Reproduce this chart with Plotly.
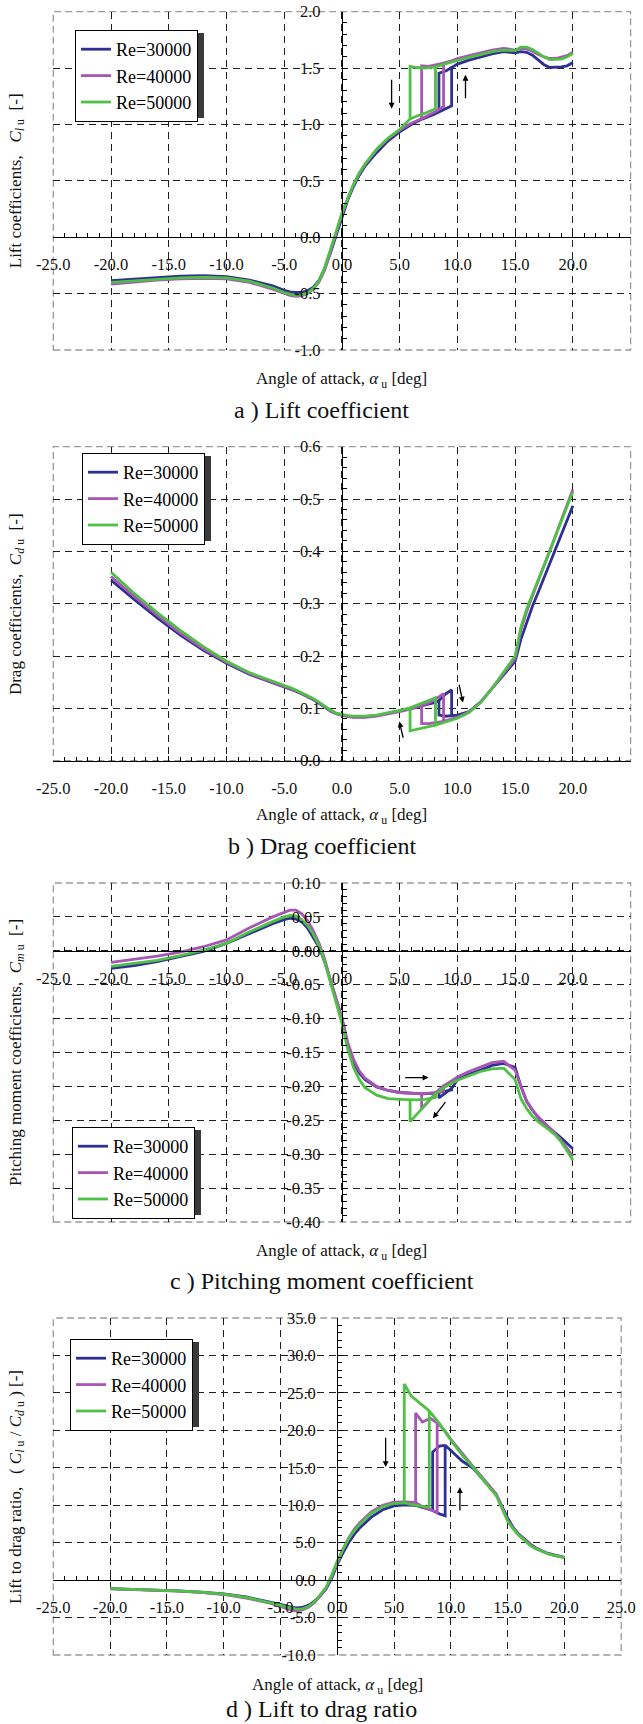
import plotly.graph_objects as go

# ---------------------------------------------------------------- data
RE_LABELS = ["Re=30000", "Re=40000", "Re=50000"]
COLORS = ["#2E3192", "#A855B5", "#4FBF45"]

X_TICKS = [-25, -20, -15, -10, -5, 0, 5, 10, 15, 20, 25]
X_TICK_TEXT = ["-25.0", "-20.0", "-15.0", "-10.0", "-5.0", "0.0", "5.0", "10.0", "15.0", "20.0", "25.0"]
Y_TICKS_CL = [-1.0, -0.5, 0.0, 0.5, 1.0, 1.5, 2.0]
Y_TEXT_CL = ["-1.0", "-0.5", "0.0", "0.5", "1.0", "1.5", "2.0"]
Y_TICKS_CD = [0.0, 0.1, 0.2, 0.3, 0.4, 0.5, 0.6]
Y_TEXT_CD = ["0.0", "0.1", "0.2", "0.3", "0.4", "0.5", "0.6"]
Y_TICKS_CM = [-0.40, -0.35, -0.30, -0.25, -0.20, -0.15, -0.10, -0.05, 0.00, 0.05, 0.10]
Y_TEXT_CM = ["-0.40", "-0.35", "-0.30", "-0.25", "-0.20", "-0.15", "-0.10", "-0.05", "0.00", "0.05", "0.10"]
Y_TICKS_LD = [-10, -5, 0, 5, 10, 15, 20, 25, 30, 35]
Y_TEXT_LD = ["-10.0", "-5.0", "0.0", "5.0", "10.0", "15.0", "20.0", "25.0", "30.0", "35.0"]

# angle of attack, common part of the (separated-flow) branch
ALPHA_COMMON = [-20, -18, -16, -14, -12, -10, -8, -6, -5, -4.5, -4, -3.5, -3, -2.5, -2,
                -1.5, -1, -0.5, 0, 0.5, 1, 1.5, 2, 3, 4, 5]
# continuation of the separated branch up to the upward jump
ALPHA_LO_EXT_30 = [6, 7, 8, 8.4, 9, 9.5]
ALPHA_LO_EXT_40 = [6, 6.9, 7.5, 8.2, 8.8]
ALPHA_LO_EXT_50 = [5.9, 6.5, 7.2, 8.1]
# attached branch, from the downward jump to 20 deg
ALPHA_HI_30 = [8.4, 9, 9.5, 10, 11, 12, 13, 14, 15, 15.5, 16, 16.5, 17, 17.5, 18, 18.5, 19, 19.5, 20]
ALPHA_HI_40 = [6.9, 7.5, 8.2, 8.8, 9.5, 10, 11, 12, 13, 14, 15, 15.5, 16, 16.5, 17, 17.5, 18, 18.5, 19, 19.5, 20]
ALPHA_HI_50 = [5.9, 6.5, 7.2, 8.1, 9, 10, 11, 12, 13, 14, 15, 15.5, 16, 16.5, 17, 17.5, 18, 18.5, 19, 19.5, 20]

# ---- lift coefficient
CL_LO_30 = [-0.385, -0.37, -0.355, -0.345, -0.34, -0.35, -0.38, -0.43, -0.47, -0.485, -0.49, -0.49, -0.475,
            -0.445, -0.385, -0.28, -0.14, 0.02, 0.19, 0.33, 0.45, 0.55, 0.63, 0.75, 0.855, 0.935,
            1.0, 1.05, 1.09, 1.11, 1.14, 1.165]
CL_HI_30 = [1.455, 1.475, 1.505, 1.535, 1.57, 1.60, 1.625, 1.645, 1.635, 1.645, 1.64, 1.615, 1.57,
            1.53, 1.505, 1.505, 1.51, 1.52, 1.55]
CL_LO_40 = [-0.415, -0.395, -0.38, -0.37, -0.365, -0.37, -0.40, -0.46, -0.50, -0.515, -0.525, -0.52, -0.50,
            -0.46, -0.40, -0.29, -0.13, 0.04, 0.205, 0.345, 0.465, 0.565, 0.645, 0.775, 0.875, 0.95,
            1.01, 1.05, 1.08, 1.12, 1.16]
CL_HI_40 = [1.52, 1.515, 1.53, 1.545, 1.565, 1.585, 1.61, 1.635, 1.66, 1.675, 1.66, 1.675, 1.67, 1.65,
            1.62, 1.60, 1.585, 1.585, 1.595, 1.61, 1.64]
CL_LO_50 = [-0.40, -0.385, -0.37, -0.36, -0.355, -0.36, -0.39, -0.45, -0.49, -0.505, -0.517, -0.51, -0.496,
            -0.455, -0.39, -0.27, -0.12, 0.05, 0.215, 0.35, 0.47, 0.57, 0.65, 0.78, 0.88, 0.955,
            1.05, 1.075, 1.10, 1.14]
CL_HI_50 = [1.515, 1.505, 1.50, 1.51, 1.54, 1.57, 1.595, 1.62, 1.645, 1.66, 1.655, 1.685, 1.685, 1.665,
            1.63, 1.60, 1.575, 1.575, 1.58, 1.60, 1.63]

# ---- drag coefficient
CD_LO_30 = [0.345, 0.308, 0.273, 0.240, 0.211, 0.186, 0.165, 0.149, 0.142, 0.138, 0.133, 0.128, 0.123,
            0.117, 0.110, 0.102, 0.095, 0.090, 0.087, 0.085, 0.084, 0.084, 0.084, 0.086, 0.090, 0.095,
            0.100, 0.105, 0.111, 0.115, 0.128, 0.135]
CD_HI_30 = [0.087, 0.085, 0.086, 0.087, 0.094, 0.112, 0.138, 0.166, 0.190, 0.232, 0.265, 0.295, 0.322,
            0.350, 0.377, 0.405, 0.432, 0.460, 0.487]
CD_LO_40 = [0.352, 0.314, 0.278, 0.244, 0.214, 0.188, 0.166, 0.150, 0.143, 0.139, 0.134, 0.129, 0.124,
            0.118, 0.111, 0.103, 0.096, 0.090, 0.087, 0.084, 0.083, 0.083, 0.083, 0.085, 0.089, 0.094,
            0.099, 0.105, 0.110, 0.119, 0.128]
CD_HI_40 = [0.071, 0.071, 0.073, 0.075, 0.079, 0.083, 0.093, 0.111, 0.138, 0.167, 0.195, 0.250, 0.285,
            0.315, 0.343, 0.372, 0.400, 0.430, 0.460, 0.490, 0.518]
CD_LO_50 = [0.360, 0.320, 0.283, 0.249, 0.218, 0.190, 0.168, 0.152, 0.145, 0.140, 0.135, 0.130, 0.125,
            0.119, 0.112, 0.104, 0.097, 0.091, 0.088, 0.086, 0.085, 0.085, 0.085, 0.087, 0.091, 0.096,
            0.101, 0.106, 0.112, 0.120]
CD_HI_50 = [0.057, 0.061, 0.064, 0.068, 0.074, 0.081, 0.092, 0.111, 0.138, 0.168, 0.200, 0.255, 0.290,
            0.318, 0.345, 0.372, 0.400, 0.430, 0.458, 0.487, 0.514]

# ---- pitching moment coefficient
CM_LO_30 = [-0.026, -0.022, -0.016, -0.009, -0.001, 0.011, 0.026, 0.040, 0.046, 0.048, 0.047, 0.043, 0.034,
            0.020, 0.006, -0.016, -0.045, -0.074, -0.100, -0.140, -0.165, -0.180, -0.190, -0.201, -0.206,
            -0.209, -0.210, -0.211, -0.210, -0.209, -0.207, -0.205]
CM_HI_30 = [-0.217, -0.210, -0.203, -0.190, -0.182, -0.176, -0.169, -0.166, -0.172, -0.200, -0.222,
            -0.235, -0.246, -0.254, -0.262, -0.269, -0.276, -0.284, -0.292]
CM_LO_40 = [-0.017, -0.013, -0.008, -0.002, 0.006, 0.016, 0.034, 0.050, 0.057, 0.060, 0.060, 0.055, 0.045,
            0.030, 0.012, -0.012, -0.043, -0.072, -0.098, -0.135, -0.160, -0.177, -0.188, -0.200, -0.206,
            -0.209, -0.210, -0.211, -0.210, -0.209, -0.207]
CM_HI_40 = [-0.233, -0.222, -0.208, -0.199, -0.192, -0.186, -0.178, -0.171, -0.165, -0.163, -0.176,
            -0.200, -0.222, -0.235, -0.245, -0.253, -0.261, -0.270, -0.280, -0.291, -0.303]
CM_LO_50 = [-0.023, -0.019, -0.014, -0.007, 0.001, 0.011, 0.028, 0.043, 0.050, 0.052, 0.051, 0.046, 0.038,
            0.025, 0.008, -0.016, -0.047, -0.078, -0.107, -0.145, -0.172, -0.190, -0.202, -0.213, -0.218,
            -0.219, -0.220, -0.220, -0.219, -0.216]
CM_HI_50 = [-0.252, -0.241, -0.228, -0.211, -0.200, -0.191, -0.184, -0.178, -0.174, -0.173, -0.190,
            -0.218, -0.233, -0.244, -0.252, -0.258, -0.265, -0.272, -0.282, -0.295, -0.309]

# ---- lift to drag ratio
LD_LO_30 = [-1.15, -1.22, -1.30, -1.43, -1.60, -1.85, -2.25, -2.85, -3.25, -3.45, -3.65, -3.70, -3.60,
            -3.35, -2.80, -2.10, -1.20, 0.20, 2.10, 3.60, 5.00, 6.10, 7.00, 8.40, 9.40, 9.90,
            10.05, 9.95, 9.45, 9.30, 8.85, 8.60]
LD_HI_30 = [17.1, 17.9, 18.0, 17.3, 15.9, 14.9, 13.2, 11.4, 8.3, 7.0, 6.1, 5.4, 4.8, 4.3, 3.9, 3.6,
            3.4, 3.2, 3.05]
LD_LO_40 = [-1.18, -1.25, -1.35, -1.48, -1.65, -1.92, -2.40, -3.05, -3.50, -3.80, -4.05, -4.10, -3.95,
            -3.60, -3.00, -2.10, -1.10, 0.50, 2.40, 4.10, 5.60, 6.80, 7.70, 9.10, 10.00, 10.40,
            10.45, 10.35, 9.80, 9.35, 9.05]
LD_HI_40 = [22.3, 21.1, 21.6, 21.0, 19.9, 18.8, 16.9, 15.1, 13.3, 11.5, 8.0, 6.9, 6.0, 5.3, 4.7, 4.2,
            3.85, 3.55, 3.35, 3.15, 3.05]
LD_LO_50 = [-1.15, -1.22, -1.32, -1.45, -1.62, -1.88, -2.30, -2.95, -3.35, -3.60, -3.80, -3.90, -3.80,
            -3.50, -2.90, -2.00, -1.00, 0.60, 2.50, 4.10, 5.50, 6.60, 7.50, 8.90, 9.80, 10.25,
            10.30, 10.10, 9.95, 9.70]
LD_HI_50 = [26.2, 24.6, 23.8, 22.6, 20.9, 18.7, 16.7, 15.0, 13.2, 11.3, 7.9, 6.8, 5.95, 5.3, 4.6, 4.2,
            3.85, 3.55, 3.35, 3.15, 3.0]

# hysteresis direction arrows (tail alpha, tail value, head alpha, head value)
ARROWS_CL = [(4.3, 1.41, 4.3, 1.14), (10.7, 1.22, 10.7, 1.44)]
ARROWS_CD = [(5.33, 0.041, 4.97, 0.075), (10.12, 0.148, 10.48, 0.111)]
ARROWS_CM = [(5.35, -0.187, 7.5, -0.187), (9.06, -0.221, 7.88, -0.247)]
ARROWS_LD = [(4.26, 19.2, 4.26, 15.1), (10.8, 9.1, 10.8, 12.4)]

# ---------------------------------------------------------------- helpers
FONT = "Liberation Serif"
W, H = 643, 1724

ALPHA_LO = [ALPHA_COMMON + ALPHA_LO_EXT_30, ALPHA_COMMON + ALPHA_LO_EXT_40, ALPHA_COMMON + ALPHA_LO_EXT_50]
ALPHA_HI = [ALPHA_HI_30, ALPHA_HI_40, ALPHA_HI_50]


def hysteresis_path(a_lo, v_lo, a_hi, v_hi):
    a_up = a_lo[-1]
    a_dn = a_hi[0]
    i_up = a_hi.index(a_up)
    xs = list(a_lo) + list(a_hi[i_up:])
    ys = list(v_lo) + list(v_hi[i_up:])
    i_dn = a_lo.index(a_dn)
    xs += [None] + list(a_hi[:i_up + 1])[::-1] + [a_lo[i_dn]]
    ys += [None] + list(v_hi[:i_up + 1])[::-1] + [v_lo[i_dn]]
    return xs, ys


PANELS = [
    dict(lo=[CL_LO_30, CL_LO_40, CL_LO_50], hi=[CL_HI_30, CL_HI_40, CL_HI_50],
         yr=(-1.0, 2.0), yt=(Y_TICKS_CL, Y_TEXT_CL), ymin=0.1, arrows=ARROWS_CL,
         box=(53.3, 11.7, 630.6, 350.0), xt_y=380, sub_y=410, leg=(75, 30),
         ytitle="Lift coefficients,&nbsp;&nbsp;&nbsp;<i>C</i><sub><i>l</i> u</sub>&nbsp; [-]",
         sub="a ) Lift coefficient"),
    dict(lo=[CD_LO_30, CD_LO_40, CD_LO_50], hi=[CD_HI_30, CD_HI_40, CD_HI_50],
         yr=(0.0, 0.6), yt=(Y_TICKS_CD, Y_TEXT_CD), ymin=0.02, arrows=ARROWS_CD,
         box=(53.3, 446.7, 630.6, 760.7), xt_y=816, sub_y=846, leg=(82, 453),
         ytitle="Drag coefficients,&nbsp; <i>C</i><sub><i>d</i> u</sub>&nbsp; [-]",
         sub="b ) Drag coefficient"),
    dict(lo=[CM_LO_30, CM_LO_40, CM_LO_50], hi=[CM_HI_30, CM_HI_40, CM_HI_50],
         yr=(-0.4, 0.1), yt=(Y_TICKS_CM, Y_TEXT_CM), ymin=0.01, arrows=ARROWS_CM,
         box=(53.3, 883.0, 630.6, 1222.0), xt_y=1252, sub_y=1281, leg=(72, 1127),
         ytitle="Pitching moment coefficients,&nbsp; <i>C</i><sub><i>m</i> u</sub>&nbsp; [-]",
         sub="c ) Pitching moment coefficient"),
    dict(lo=[LD_LO_30, LD_LO_40, LD_LO_50], hi=[LD_HI_30, LD_HI_40, LD_HI_50],
         yr=(-10.0, 35.0), yt=(Y_TICKS_LD, Y_TEXT_LD), ymin=1.0, arrows=ARROWS_LD,
         box=(53.3, 1318.0, 621.2, 1655.0), xt_y=1686, sub_y=1709, leg=(70, 1339),
         ytitle="Lift to drag ratio,&nbsp;&nbsp; ( <i>C</i><sub><i>l</i> u</sub> / <i>C</i><sub><i>d</i> u</sub> ) [-]",
         sub="d ) Lift to drag ratio"),
]

XTITLE = "Angle of attack, <i>α</i><sub> u</sub> [deg]"
LEG_W, LEG_H = 126, 85

fig = go.Figure()
layout = dict(width=W, height=H, margin=dict(l=0, r=0, t=0, b=0), autosize=False,
              paper_bgcolor="white", plot_bgcolor="white",
              font=dict(family=FONT, color="#000"), annotations=[], shapes=[])

for k, p in enumerate(PANELS):
    n = k + 1
    sfx = "" if n == 1 else str(n)
    L, T, R, B = p["box"]
    xdom = [L / W, R / W]
    ydom = [1 - B / H, 1 - T / H]
    y0, y1 = p["yr"]
    xaxis_pos = ydom[0] + (0 - y0) / (y1 - y0) * (ydom[1] - ydom[0])
    yaxis_pos = xdom[0] + (0 - (-25)) / 50 * (xdom[1] - xdom[0])

    for i in range(3):
        xs, ys = hysteresis_path(ALPHA_LO[i], p["lo"][i], ALPHA_HI[i], p["hi"][i])
        fig.add_trace(go.Scatter(
            x=xs, y=ys, mode="lines", name=RE_LABELS[i],
            line=dict(color=COLORS[i], width=2.8),
            xaxis="x" + sfx, yaxis="y" + sfx,
            legend="legend" + sfx, connectgaps=False, hoverinfo="skip"))

    common_tick = dict(ticks="inside", ticklen=5, tickwidth=1, tickcolor="#000",
                       showline=True, linecolor="#000", linewidth=1.2, zeroline=False,
                       showgrid=True, gridcolor="#1e1e1e", gridwidth=1, griddash="7px,5px",
                       tickfont=dict(family=FONT, size=16.5, color="#111"),
                       fixedrange=True, automargin=False)
    layout["xaxis" + sfx] = dict(
        domain=xdom, range=[-25, 25], anchor="free", position=xaxis_pos,
        tickmode="array", tickvals=X_TICKS, ticktext=X_TICK_TEXT,
        minor=dict(tickmode="linear", tick0=0, dtick=1, ticks="inside", ticklen=4,
                   tickcolor="#000", showgrid=False),
        ticklabelstandoff=12, **common_tick)
    layout["yaxis" + sfx] = dict(
        domain=ydom, range=[y0, y1], anchor="free", position=yaxis_pos, side="left",
        tickmode="array", tickvals=p["yt"][0], ticktext=p["yt"][1],
        minor=dict(tickmode="linear", tick0=0, dtick=p["ymin"], ticks="inside", ticklen=4,
                   tickcolor="#000", showgrid=False),
        ticklabelstandoff=18, **common_tick)

    # plot frame (gray dashed)
    layout["shapes"].append(dict(type="rect", xref="x" + sfx + " domain", yref="y" + sfx + " domain",
                                 x0=0, x1=1, y0=0, y1=1, layer="below",
                                 line=dict(color="#9a9a9a", width=1.3, dash="7px,4px")))

    # legend with shadow
    lx, ly = p["leg"]
    layout["legend" + sfx] = dict(x=lx / W, y=1 - ly / H, xanchor="left", yanchor="top",
                                  xref="paper", yref="paper",
                                  bgcolor="white", bordercolor="#000", borderwidth=1,
                                  font=dict(family=FONT, size=18, color="#000"),
                                  tracegroupgap=0, itemwidth=30)
    layout["shapes"].append(dict(type="rect", xref="paper", yref="paper",
                                 x0=(lx + 3) / W, x1=(lx + 3 + LEG_W) / W,
                                 y0=1 - (ly + 3 + LEG_H) / H, y1=1 - (ly + 3) / H,
                                 fillcolor="#3a3a3a", line=dict(width=0), layer="above"))

    # titles
    xc = (L + R) / 2
    yc = (T + B) / 2
    layout["annotations"].append(dict(text=XTITLE, x=xc / W, y=1 - p["xt_y"] / H, xref="paper", yref="paper",
                                      showarrow=False, xanchor="center", yanchor="middle",
                                      font=dict(family=FONT, size=17, color="#111")))
    layout["annotations"].append(dict(text=p["sub"], x=321.5 / W, y=1 - p["sub_y"] / H, xref="paper",
                                      yref="paper", showarrow=False, xanchor="center", yanchor="middle",
                                      font=dict(family=FONT, size=24, color="#111")))
    layout["annotations"].append(dict(text=p["ytitle"], x=16.4 / W, y=1 - yc / H, xref="paper", yref="paper",
                                      showarrow=False, textangle=-90, xanchor="center", yanchor="middle",
                                      font=dict(family=FONT, size=17, color="#111")))
    for (ta, tv, ha, hv) in p["arrows"]:
        layout["annotations"].append(dict(x=ha, y=hv, ax=ta, ay=tv, xref="x" + sfx, yref="y" + sfx,
                                          axref="x" + sfx, ayref="y" + sfx, text="", showarrow=True,
                                          arrowhead=2, arrowsize=0.9, arrowwidth=1.3, arrowcolor="#000",
                                          standoff=0, startstandoff=0))

fig.update_layout(**layout)
fig.write_html("out.html")
